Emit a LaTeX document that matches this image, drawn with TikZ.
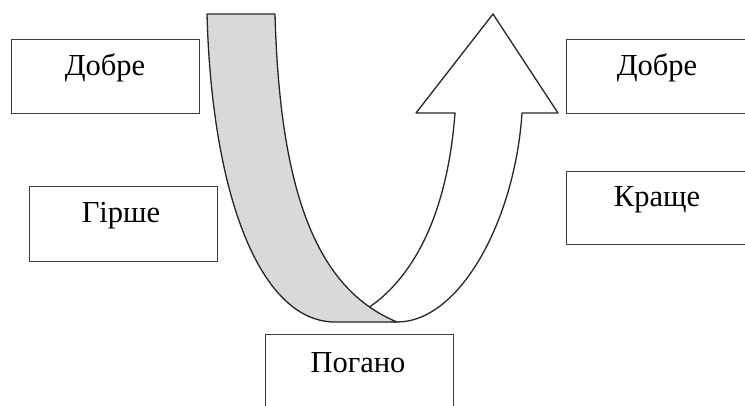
\documentclass[tikz,border=0pt]{standalone}
\usepackage{fontspec}
\setmainfont{Liberation Serif}
\definecolor{bandgrey}{RGB}{217,217,217}
\definecolor{boxline}{RGB}{60,60,60}
\begin{document}
\begin{tikzpicture}[x=1pt,y=-1pt,
  box/.style={draw=boxline,line width=1.2pt,fill=white},
  lbl/.style={inner sep=0pt,font=\fontsize{30.5}{33}\selectfont},
  arrowpart/.style={draw=black!85,line width=1.3pt,line join=round}]
\useasboundingbox (0,0) rectangle (745,405);
\clip (0,0) rectangle (745,405);
% boxes
\node[box,minimum width=188pt,minimum height=74pt,anchor=north west] (bl1) at (11,39) {};
\node[box,minimum width=188pt,minimum height=75pt,anchor=north west] (bl2) at (29,186) {};
\node[box,minimum width=200pt,minimum height=74pt,anchor=north west] (br1) at (566,39) {};
\node[box,minimum width=200pt,minimum height=73pt,anchor=north west] (br2) at (566,171) {};
\node[box,minimum width=188pt,minimum height=90pt,anchor=north west] (bb) at (265,334) {};
% labels
\node[lbl] (t1) at (105,68) {Добре};
\node[lbl] (t2) at (121,216) {Гірше};
\node[lbl] (t3) at (657,68) {Добре};
\node[lbl] (t4) at (657,200) {Краще};
\node[lbl] (t5) at (358,363) {Погано};
% white arrow
\draw[arrowpart,fill=white] (397,322) .. controls (460,322) and (515,220) .. (522,113)
  -- (558,113) -- (493,14) -- (416,113) -- (455,113)
  .. controls (447,220) and (410,280) .. (368,308) -- (360,320) -- cycle;
% grey band
\draw[arrowpart,fill=bandgrey] (207,14) -- (275,14)
  .. controls (280,200) and (320,290) .. (397,322)
  -- (335,322)
  .. controls (262,322) and (212,200) .. (207,14) -- cycle;
\end{tikzpicture}
\end{document}
